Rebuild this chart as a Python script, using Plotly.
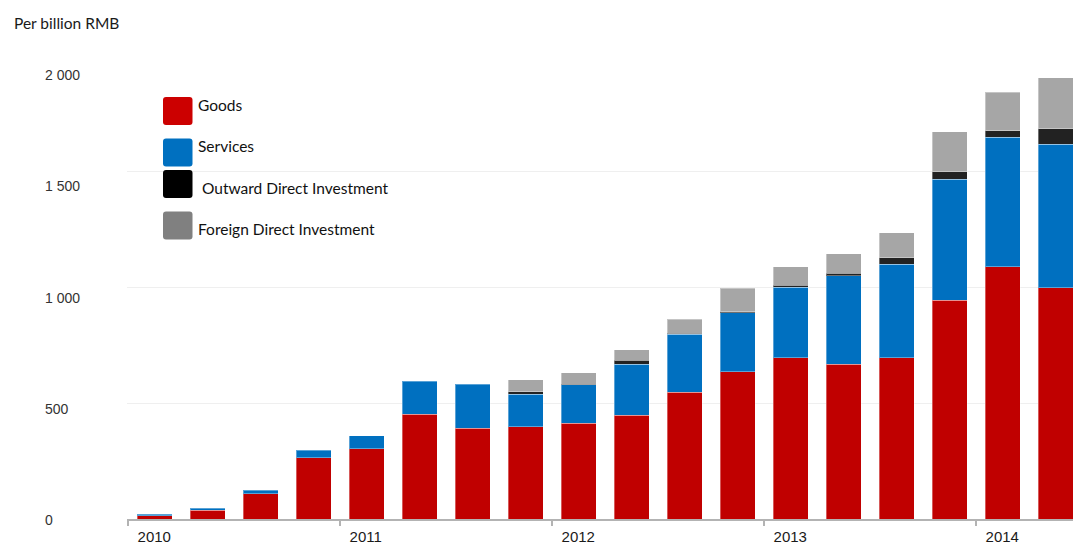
import plotly.graph_objects as go

# Quarterly cross-border RMB settlement, billion RMB
quarters = [
    "2010 Q1", "2010 Q2", "2010 Q3", "2010 Q4",
    "2011 Q1", "2011 Q2", "2011 Q3", "2011 Q4",
    "2012 Q1", "2012 Q2", "2012 Q3", "2012 Q4",
    "2013 Q1", "2013 Q2", "2013 Q3", "2013 Q4",
    "2014 Q1", "2014 Q2",
]
goods = [15, 38, 108, 265, 302, 451, 391, 398, 412, 448, 547, 636, 696, 668, 695, 944, 1087, 997]
services = [5, 9, 17, 32, 57, 144, 191, 141, 167, 220, 250, 253, 304, 380, 403, 521, 560, 619]
outward_di = [None, None, None, None, None, None, None, 9, 2, 17, 3, 5, 8, 11, 29, 33, 28, 67]
foreign_di = [None, None, None, None, None, None, None, 52, 50, 44, 61, 101, 79, 85, 107, 171, 166, 220]

years = ["2010", "2011", "2012", "2013", "2014"]
y_ticks = [0, 500, 1000, 1500, 2000]
y_tick_text = ["0", "500", "1 000", "1 500", "2 000"]

series_names = ["Goods", "Services", "Outward Direct Investment", "Foreign Direct Investment"]
bar_colors = ["#C00000", "#0070C0", "#222222", "#A6A6A6"]
key_colors = ["#CC0000", "#0070C0", "#000000", "#808080"]

W, H = 1073, 545
ML, MR, MT, MB = 127, 0, 55, 26
PW, PH = W - ML - MR, H - MT - MB
STEP = 53  # pixels per quarter
Y_MAX = 2001

def px_x(x):
    return (x - ML) / PW

def px_y(y):
    return (H - MB - y) / PH

x = list(range(len(quarters)))
fig = go.Figure()
for name, vals, color in zip(series_names, [goods, services, outward_di, foreign_di], bar_colors):
    fig.add_trace(go.Bar(
        x=x, y=vals, name=name, width=0.66,
        marker=dict(color=color, line=dict(color="rgba(255,255,255,0.35)", width=1)),
        customdata=quarters,
        hovertemplate="%{customdata}<br>" + name + ": %{y}<extra></extra>",
        showlegend=False,
    ))

# year boundaries sit just before each year's first quarter
year_pos = [quarters.index(f"{y} Q1") - 0.5 for y in years]

x0 = -0.52
fig.update_layout(
    width=W, height=H,
    margin=dict(l=ML, r=MR, t=MT, b=MB, pad=0),
    barmode="stack",
    plot_bgcolor="white", paper_bgcolor="white",
    separators=". ",
    xaxis=dict(
        range=[x0, x0 + PW / STEP],
        tickvals=year_pos, ticktext=years,
        ticks="outside", ticklen=5, tickwidth=1.5, tickcolor="#B3B3B3",
        ticklabelposition="outside right", ticklabelshift=8, ticklabelstandoff=3,
        showline=True, linecolor="#B3B3B3", linewidth=1.5,
        showgrid=False, zeroline=False,
        tickfont=dict(family="Liberation Sans, Arial", size=15, color="#1A1A1A"),
    ),
    yaxis=dict(
        range=[0, Y_MAX],
        tickvals=y_ticks, showticklabels=False,
        showgrid=True, gridcolor="#EFEFEF", gridwidth=1,
        zeroline=False, showline=False,
    ),
)

# value labels run on a slightly tighter spacing than the gridlines
LABEL_SPACING, LABEL_OFFSET = 0.96, -6
for v, t in zip(y_ticks, y_tick_text):
    fig.add_annotation(
        x=px_x(43), xref="paper", xanchor="left",
        y=(v * LABEL_SPACING + LABEL_OFFSET) / Y_MAX, yref="paper", yanchor="middle",
        text=t, showarrow=False,
        font=dict(family="Liberation Sans, Arial", size=14, color="#333333"),
    )

fig.add_annotation(
    x=px_x(12), xref="paper", xanchor="left",
    y=px_y(23), yref="paper", yanchor="middle",
    text="Per billion RMB", showarrow=False,
    font=dict(family="Lato", size=15.5, color="#1A1A1A"),
)

# custom key with large rounded swatches
key_tops = [97, 138.5, 170, 211.5]
key_text_y = [104.5, 146, 187.5, 229]
key_text_x = [196, 196, 200, 196]
SW, SH, R = 29.5, 28, 3

def rounded_rect(xl, yt, w, h, r):
    xr, yb = xl + w, yt + h
    pts = [
        f"M {px_x(xl + r)},{px_y(yt)}",
        f"L {px_x(xr - r)},{px_y(yt)}",
        f"Q {px_x(xr)},{px_y(yt)} {px_x(xr)},{px_y(yt + r)}",
        f"L {px_x(xr)},{px_y(yb - r)}",
        f"Q {px_x(xr)},{px_y(yb)} {px_x(xr - r)},{px_y(yb)}",
        f"L {px_x(xl + r)},{px_y(yb)}",
        f"Q {px_x(xl)},{px_y(yb)} {px_x(xl)},{px_y(yb - r)}",
        f"L {px_x(xl)},{px_y(yt + r)}",
        f"Q {px_x(xl)},{px_y(yt)} {px_x(xl + r)},{px_y(yt)}",
        "Z",
    ]
    return " ".join(pts)

for name, color, top, ty, tx in zip(series_names, key_colors, key_tops, key_text_y, key_text_x):
    fig.add_shape(
        type="path", xref="paper", yref="paper",
        path=rounded_rect(163, top, SW, SH, R),
        fillcolor=color, line=dict(width=0), layer="above",
    )
    fig.add_annotation(
        x=px_x(tx), xref="paper", xanchor="left",
        y=px_y(ty), yref="paper", yanchor="middle",
        text=name, showarrow=False,
        font=dict(family="Lato", size=15.5, color="#111111"),
    )

fig.write_html("out.html")
